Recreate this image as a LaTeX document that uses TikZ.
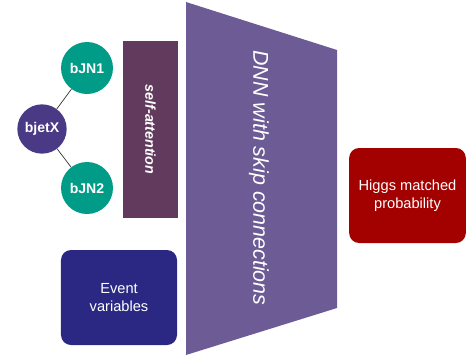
\documentclass[tikz,border=0pt]{standalone}
\usepackage{fontspec}
\setmainfont{Liberation Sans}
\usetikzlibrary{positioning,calc}
\definecolor{jetteal}{HTML}{009C88}
\definecolor{jetpurple}{HTML}{4A3A85}
\definecolor{attnplum}{HTML}{623A5D}
\definecolor{dnnviolet}{HTML}{6C5B94}
\definecolor{evtnavy}{HTML}{2A2883}
\definecolor{higgsred}{HTML}{A30000}

\begin{document}
\begin{tikzpicture}[x=0.03cm, y=-0.03cm,
  jet/.style={circle, fill=#1, text=white, minimum size=1.56cm, inner sep=0pt, font=\fontsize{12}{14}\selectfont\bfseries},
  blk/.style={rectangle, fill=#1, text=white, minimum width=3.5cm, minimum height=2.85cm, align=center, rounded corners=3mm, font=\fontsize{12.5}{15.5}\selectfont},
  link/.style={draw=black!80, line width=0.6pt}
]
  \useasboundingbox (0,0) rectangle (466,359);

  % input jets
  \node[jet=jetpurple, minimum size=1.48cm] (bjetx) at (42,129) {bjetX};
  \node[jet=jetteal] (bjn1) at (87,68)  {bJN1};
  \node[jet=jetteal] (bjn2) at (87,188) {bJN2};
  \draw[link] (bjetx) -- (bjn1);
  \draw[link] (bjetx) -- (bjn2);

  % attention block
  \node[rectangle, fill=attnplum, minimum width=1.65cm, minimum height=5.31cm, inner sep=0pt] (attn) at (150.5,129.5) {};
  \node[text=white, rotate=-90, font=\fontsize{12.2}{14}\selectfont\bfseries\itshape] (attnlbl) at (attn) {self-attention};

  % event level inputs
  \node[blk=evtnavy, minimum width=3.48cm] (event) at (119,297.5) {Event\\variables};

  % network
  \coordinate (dnntl) at (186,2);
  \coordinate (dnnbl) at (186,355);
  \coordinate (dnntr) at (337,50);
  \coordinate (dnnbr) at (337,308);
  \fill[dnnviolet] (dnntl) -- (dnntr) -- (dnnbr) -- (dnnbl) -- cycle;
  \node[text=white, rotate=-90, font=\fontsize{18.3}{20}\selectfont\itshape] (dnn) at (259,178) {DNN with skip connections};

  % output
  \node[blk=higgsred] (higgs) at (407.5,195.5) {Higgs matched\\probability};
\end{tikzpicture}
\end{document}
